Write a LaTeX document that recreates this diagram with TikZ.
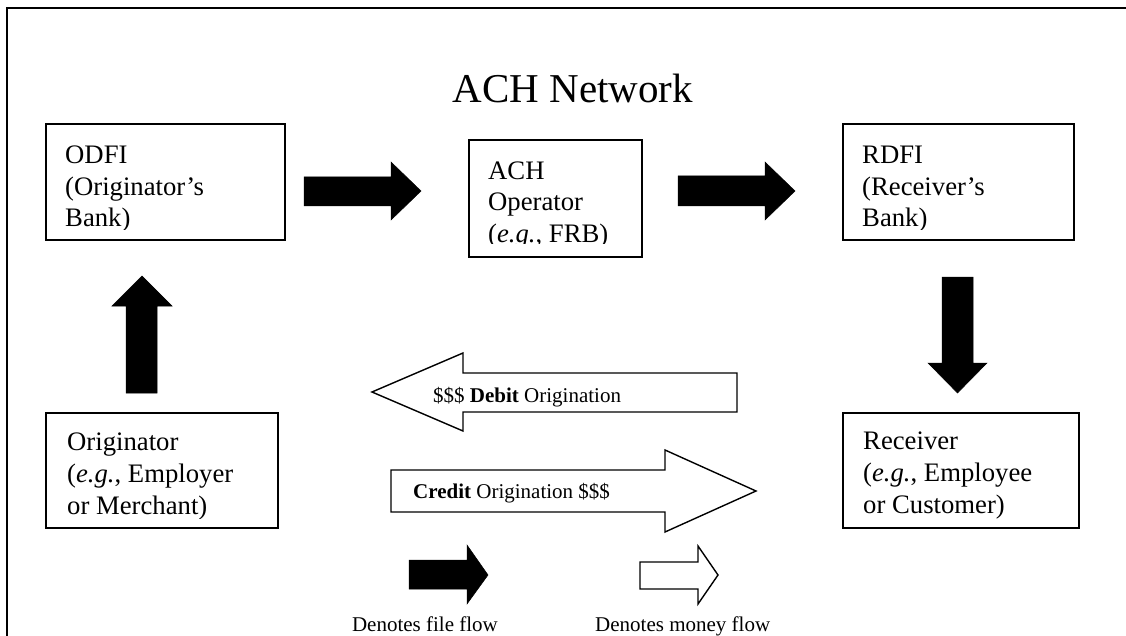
\documentclass[tikz,border=0pt]{standalone}
\usepackage{fontspec}
\setmainfont{Liberation Serif}
\begin{document}
\begin{tikzpicture}[x=1pt,y=-1pt,
  box/.style={draw, line width=1.8pt, inner sep=0pt, anchor=north west},
  boxtext/.style={anchor=base west, inner sep=0pt, align=left, font=\fontsize{26.7}{31.7}\selectfont},
  filearrow/.style={fill=black, draw=black, line width=0.5pt, line join=miter},
  moneyarrow/.style={fill=white, draw=black, line width=1.4pt, line join=miter},
  small/.style={inner sep=0pt, font=\fontsize{21}{25}\selectfont},
  titletext/.style={inner sep=0pt, anchor=base, font=\fontsize{41}{48}\selectfont}]
\clip (0,0) rectangle (1126,636);
\fill[white] (0,0) rectangle (1126,636);
\draw[line width=2pt] (7,660) -- (7,8) -- (1150,8);

\node[titletext] (title) at (573,103) {ACH Network};

% boxes
\node[box, minimum width=239pt, minimum height=116pt] (odfi) at (45,123) {};
\node[box, minimum width=173pt, minimum height=117pt] (ach) at (468,139) {};
\node[box, minimum width=231pt, minimum height=116pt] (rdfi) at (842,123) {};
\node[box, minimum width=232pt, minimum height=115pt] (orig) at (45,412) {};
\node[box, minimum width=236pt, minimum height=115pt] (recv) at (842,412) {};

% box texts (anchor = baseline of the last line)
\begin{scope}
\clip (45,123) rectangle (284,230);
\node[boxtext] (odfitext) at (65,227) {ODFI\\(Originator’s\\Bank)};
\end{scope}
\begin{scope}
\clip (468,139) rectangle (641,244);
\node[boxtext] (achtext) at (488,242.5) {ACH\\Operator\\(\textit{e.g.}, FRB)};
\end{scope}
\begin{scope}
\clip (842,123) rectangle (1073,230);
\node[boxtext] (rdfitext) at (862,227) {RDFI\\(Receiver’s\\Bank)};
\end{scope}
\begin{scope}
\clip (45,412) rectangle (277,518);
\node[boxtext] (origtext) at (67,514) {Originator\\(\textit{e.g.}, Employer\\or Merchant)};
\end{scope}
\begin{scope}
\clip (842,412) rectangle (1078,518);
\node[boxtext] (recvtext) at (863,513) {Receiver\\(\textit{e.g.}, Employee\\or Customer)};
\end{scope}

% file flow arrows
\fill[filearrow] (304,177) -- (391,177) -- (391,162) -- (421,191) -- (391,220) -- (391,206) -- (304,206) -- cycle;
\fill[filearrow] (678,176) -- (765,176) -- (765,162) -- (795,191) -- (765,220) -- (765,206) -- (678,206) -- cycle;
\fill[filearrow] (942,277) -- (942,363) -- (928,363) -- (957.5,393) -- (987,363) -- (973,363) -- (973,277) -- cycle;
\fill[filearrow] (126,393) -- (126,306) -- (112,306) -- (142,276) -- (172,306) -- (157,306) -- (157,393) -- cycle;

% money flow arrows
\draw[moneyarrow] (737,373) -- (463,373) -- (463,353) -- (372,392) -- (463,431) -- (463,412) -- (737,412) -- cycle;
\node[small, anchor=base west] (debit) at (433,402) {\$\$\$ \textbf{Debit} Origination};
\draw[moneyarrow] (391,470) -- (665,470) -- (665,450) -- (756,491) -- (665,532) -- (665,512) -- (391,512) -- cycle;
\node[small, anchor=base west] (credit) at (413,498) {\textbf{Credit} Origination \$\$\$};

% legend
\fill[filearrow] (409,560) -- (467,560) -- (467,545) -- (488,575) -- (467,604) -- (467,589) -- (409,589) -- cycle;
\draw[moneyarrow] (640,562) -- (698,562) -- (698,546) -- (718,575) -- (698,604) -- (698,589) -- (640,589) -- cycle;
\node[small, anchor=base east] (filelegend) at (498,631) {Denotes file flow};
\node[small, anchor=base west] (moneylegend) at (595,631) {Denotes money flow};
\end{tikzpicture}
\end{document}
